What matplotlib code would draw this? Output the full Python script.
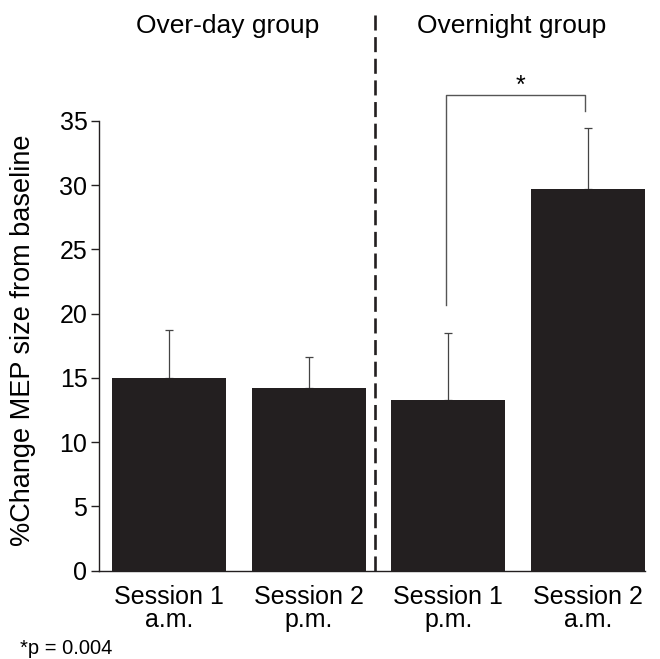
import matplotlib.pyplot as plt

plt.rcParams['font.family'] = ['Liberation Sans', 'DejaVu Sans']

# Data
groups = ["Over-day group", "Overnight group"]
tick_labels = ["Session 1\na.m.", "Session 2\np.m.", "Session 1\np.m.", "Session 2\na.m."]
means = [15.0, 14.2, 13.3, 29.7]
sem = [3.7, 2.4, 5.2, 4.75]
sig_note = "*p = 0.004"

bar_color = "#231f20"
x = list(range(len(means)))

fig = plt.figure(figsize=(6.6, 6.59), dpi=100)
ax = fig.add_axes([98.5 / 660, (659 - 570.5) / 659, (645 - 98.5) / 660, 570.5 / 659])

ax.bar(x, means, width=0.815, color=bar_color, zorder=2)
ax.errorbar(x, means, yerr=[[0] * len(sem), sem], fmt="none", ecolor="#444444",
            elinewidth=0.9, capsize=3.2, capthick=0.9, zorder=1)

ax.set_xlim(-0.505, 3.408)
ax.set_ylim(0, 44.4)
ax.set_yticks(range(0, 36, 5))
ax.spines["left"].set_bounds(0, 35)
ax.spines["top"].set_visible(False)
ax.spines["right"].set_visible(False)
for s in ["left", "bottom"]:
    ax.spines[s].set_linewidth(1.0)
    ax.spines[s].set_color(bar_color)
ax.tick_params(axis="y", length=6, width=1.0, labelsize=18, color=bar_color, pad=2)
ax.set_xticks(x)
ax.set_xticklabels(tick_labels, fontsize=18, linespacing=0.95)
ax.tick_params(axis="x", length=0, pad=10.5)
ax.set_ylabel("%Change MEP size from baseline", fontsize=19.5)
ax.yaxis.set_label_coords(-0.114, 0.403)

# Group separator
ax.axvline(1.477, ymin=0, ymax=0.985, color=bar_color, linewidth=1.9, dashes=(5.7, 2.5))

# Group titles
ax.text(0.42, 41.8, groups[0], ha="center", va="baseline", fontsize=19)
ax.text(2.45, 41.8, groups[1], ha="center", va="baseline", fontsize=19)

# Significance bracket
ax.plot([1.985, 1.985, 2.98, 2.98], [20.7, 37.0, 37.0, 35.8], color="#555555", linewidth=1.0)
ax.text(2.52, 36.8, "*", ha="center", va="bottom", fontsize=18)

fig.text(20 / 660, (659 - 654) / 659, sig_note, fontsize=14.5, ha="left", va="baseline")

fig.savefig("out.png", dpi=100)
